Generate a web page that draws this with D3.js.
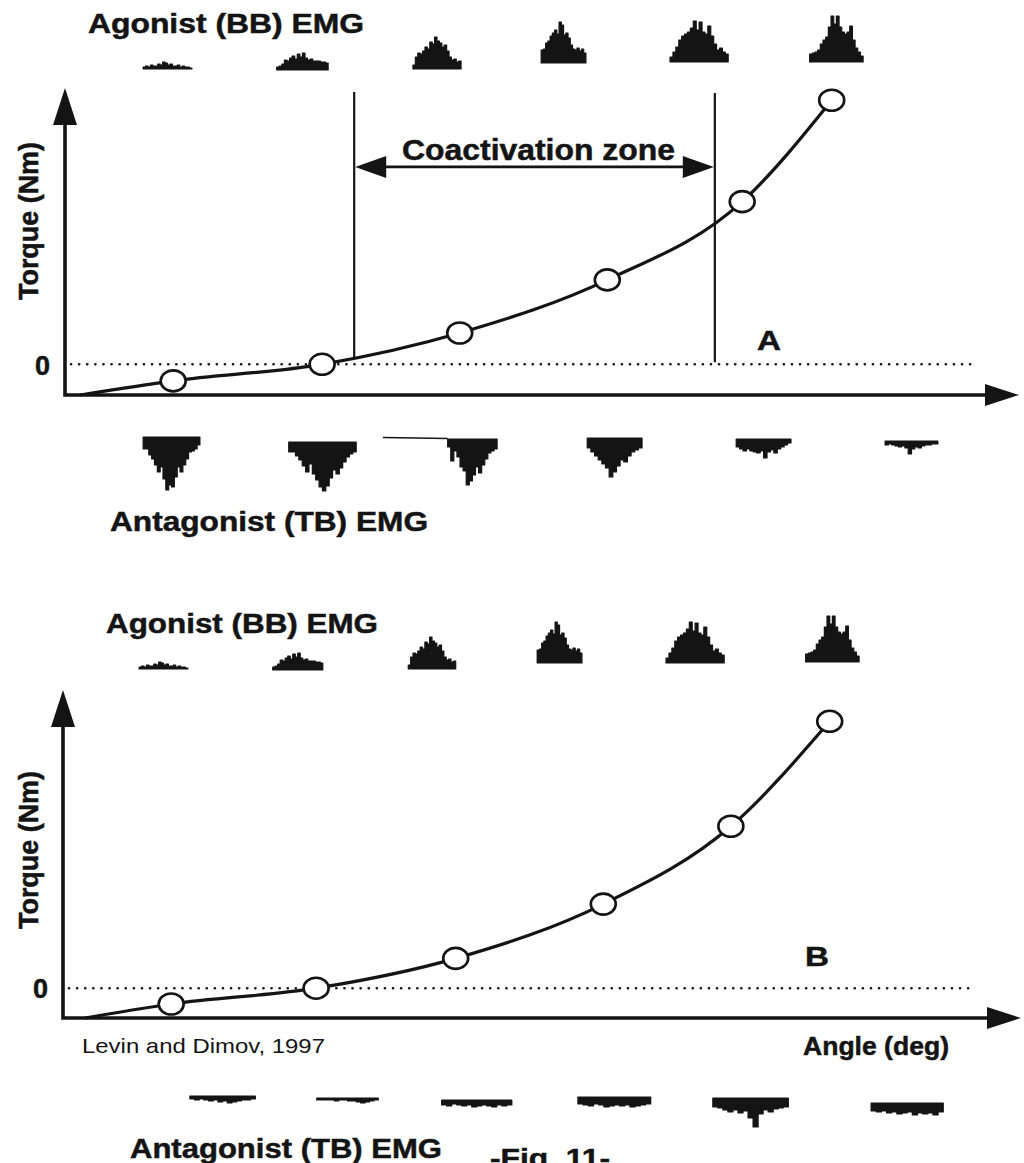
<!DOCTYPE html>
<html><head><meta charset="utf-8">
<script src="https://cdn.jsdelivr.net/npm/d3@7"></script>
<style>
html,body{margin:0;padding:0;background:#fff;}
svg{display:block;}
text{font-family:"Liberation Sans",Arial,Helvetica,sans-serif;fill:#141414;}
text.heavy{stroke:#141414;stroke-width:0.5px;}
</style></head><body>
<svg id="fig" width="1024" height="1163"></svg>
<script>
// ---- Torque-angle data (angle in deg, torque in Nm, schematic units) ----
const angleA  = [16.2, 38.5, 59.1, 81.2, 101.4, 114.8];
const torqueA = [-0.54, 0, 1.02, 2.75, 5.3, 8.6];
const angleB  = [16.2, 37.9, 58.8, 80.9, 100.0, 114.8];
const torqueB = [-0.53, 0, 1.0, 2.82, 5.43, 8.95];
// curve onset at the origin corner
const onsetA = [2.25, -1];
const onsetB = [3.3, -1];
// coactivation zone limits (deg) and marker extent (Nm)
const coactivationZone = [43.3, 97.3];
const coactLineTop = [8.87, 8.84];
const coactLineBottom = [0.2, 0.07];
const coactArrowTorque = 6.43;

// ---- EMG envelopes (µV, evenly sampled across each burst) ----
const agonistProfiles = [
  [20,30,20,40,30,30,50,40,70,60,40,50,30,30,40,20,30,20,20,10],
  [30,40,60,100,90,120,140,110,160,130,170,120,100,110,90,90,90,80,80,70],
  [40,120,160,150,180,220,200,270,250,320,280,260,220,240,180,120,90,100,70,80],
  [130,140,200,220,270,300,330,290,410,380,280,300,250,180,140,130,150,120,140,100],
  [50,100,150,220,260,280,300,340,410,320,400,300,280,360,260,180,120,140,100,80],
  [80,90,100,120,180,220,250,350,460,380,460,350,300,280,300,360,220,140,100,60]
];
const antagonistProfilesA = [
  [120,120,180,220,280,350,300,420,530,480,500,400,300,350,280,220,150,140,120,80],
  [100,100,140,180,240,300,220,320,380,450,490,440,360,280,320,260,200,150,120,100],
  [80,220,120,180,280,320,460,420,360,280,340,260,200,140,120,100],
  [100,140,180,220,260,300,390,340,280,220,240,180,140,120,100],
  [80,100,120,100,120,130,140,120,190,130,110,140,100,80,60,40],
  [40,30,40,50,60,50,70,130,80,60,70,50,40,40,30,30]
];
const antagonistProfilesB = [
  [30,40,30,40,50,40,60,50,70,60,50,40,40,30],
  [20,20,20,20,30,20,20,30,30,40,50,40,30,20],
  [50,60,40,50,60,50,70,60,50,60,70,50,60,50],
  [70,80,90,70,80,100,90,80,90,80,100,90,80,70],
  [90,100,120,140,120,150,130,200,290,160,120,140,110,100,90],
  [80,90,80,100,90,110,100,90,120,100,110,100,120,90]
];
// angle span (deg) covered by each recorded burst
const agonistSpanA    = [[11.7,19.0],[31.7,39.4],[52.1,59.3],[71.3,78.0],[90.6,99.3],[111.5,119.5]];
const antagonistSpanA = [[11.7,20.2],[33.5,43.6],[57.3,64.7],[78.2,86.4],[100.5,108.7],[122.8,130.7]];
const agonistSpanB    = [[11.4,18.7],[31.4,38.9],[51.7,58.8],[71.0,77.7],[90.3,99.0],[111.2,119.2]];
const antagonistSpanB = [[19.0,28.8],[38.0,47.2],[56.7,67.2],[77.1,88.0],[97.3,108.6],[121.0,131.8]];
const tbTraceLeadA = 47.6; // start of the TB baseline trace before burst 3

const svg = d3.select("#fig");
const ink = "#141414";

// EMG amplitude -> pixel height
const emgScale = d3.scaleLinear().domain([0, 500]).range([0, 50]);

function label(g, txt, x, y, size, len, weight) {
  const t = g.append("text").attr("x", x).attr("y", y)
    .attr("font-size", size).attr("font-weight", weight || "bold")
    .attr("textLength", len).attr("lengthAdjust", "spacingAndGlyphs").text(txt);
  if (!weight) t.attr("class", "heavy");
  return t;
}

function drawBursts(g, x, spans, profiles, baselines, dir) {
  spans.forEach((sp, i) => {
    const vals = profiles[i].concat([profiles[i][profiles[i].length - 1]]);
    const sx = d3.scaleLinear().domain([0, vals.length - 1]).range([x(sp[0]), x(sp[1])]);
    const b = baselines[i];
    const area = d3.area()
      .x((d, j) => sx(j))
      .y0(b)
      .y1(d => b - dir * emgScale(d))
      .curve(d3.curveStepAfter);
    g.append("path").attr("d", area(vals)).attr("fill", ink)
      .attr("stroke", ink).attr("stroke-width", 1.2).attr("stroke-linejoin", "round");
  });
}

function drawPanel(cfg) {
  const g = svg.append("g");
  const x = d3.scaleLinear().domain([0, 140]).range(cfg.xRange);
  const y = d3.scaleLinear().domain(cfg.yDomain).range(cfg.yRange);
  const x0 = cfg.xRange[0], yb = cfg.yRange[0], yt = cfg.yRange[1];

  // zero reference (dotted)
  g.append("line").attr("x1", x0 + 6).attr("x2", cfg.dotEnd)
    .attr("y1", y(0)).attr("y2", y(0))
    .attr("stroke", ink).attr("stroke-width", 2.6)
    .attr("stroke-dasharray", "0.1 8").attr("stroke-linecap", "round");

  // zero tick label via axis
  const ax = d3.axisLeft(y).tickValues([0]).tickSize(0).tickPadding(15).tickFormat(d3.format("d"));
  const axg = g.append("g").attr("transform", `translate(${x0},0)`).call(ax);
  axg.select(".domain").remove();
  axg.selectAll("text").attr("font-size", 27).attr("font-weight", "bold")
    .attr("font-family", "Liberation Sans, Arial, sans-serif").attr("fill", ink)
    .attr("class", "heavy").attr("dy", "0.36em");

  // axes with arrowheads
  g.append("path").attr("d", `M${x0},${yt + 30}L${x0},${yb}L${cfg.xTip - 28},${yb}`)
    .attr("fill", "none").attr("stroke", ink).attr("stroke-width", 3.6);
  g.append("path").attr("d", `M${x0},${yt}L${x0 - 12},${yt + 37}L${x0 + 12},${yt + 37}Z`).attr("fill", ink);
  g.append("path").attr("d", `M${cfg.xTip},${yb}L${cfg.xTip - 34},${yb - 11}L${cfg.xTip - 34},${yb + 11}Z`).attr("fill", ink);

  // torque-angle curve
  const pts = [cfg.onset].concat(cfg.angle.map((a, i) => [a, cfg.torque[i]]));
  const line = d3.line().x(d => x(d[0])).y(d => y(d[1])).curve(d3.curveMonotoneX);
  g.append("path").attr("d", line(pts)).attr("fill", "none")
    .attr("stroke", ink).attr("stroke-width", 3.2);

  g.selectAll("ellipse.pt").data(cfg.angle).enter().append("ellipse")
    .attr("class", "pt")
    .attr("cx", d => x(d)).attr("cy", (d, i) => y(cfg.torque[i]))
    .attr("rx", 12.5).attr("ry", 10.5)
    .attr("fill", "#fff").attr("stroke", ink).attr("stroke-width", 2.6);

  // EMG rows
  drawBursts(g, x, cfg.agSpan, agonistProfiles, cfg.agBase, 1);
  drawBursts(g, x, cfg.antSpan, cfg.antProfiles, cfg.antTop, -1);

  // y-axis title
  g.append("text").attr("transform", `translate(${cfg.yTitle[0]},${cfg.yTitle[1]}) rotate(-90)`)
    .attr("text-anchor", "middle").attr("font-size", 27).attr("font-weight", "bold")
    .attr("class", "heavy")
    .attr("textLength", 158).attr("lengthAdjust", "spacingAndGlyphs").text("Torque (Nm)");

  return { g, x, y };
}

// ---- Panel A ----
const A = drawPanel({
  xRange: [65, 1000], xTip: 1019, dotEnd: 975,
  yDomain: [-1, 9], yRange: [395, 88],
  angle: angleA, torque: torqueA, onset: onsetA,
  agSpan: agonistSpanA, agBase: [69, 70, 69, 63, 62, 62],
  antSpan: antagonistSpanA, antProfiles: antagonistProfilesA, antTop: [437, 442, 439, 438, 439, 441],
  yTitle: [38, 221]
});
// coactivation zone markers
coactivationZone.forEach((a, i) => {
  A.g.append("line").attr("x1", A.x(a)).attr("x2", A.x(a))
    .attr("y1", A.y(coactLineTop[i])).attr("y2", A.y(coactLineBottom[i]))
    .attr("stroke", ink).attr("stroke-width", 2.2);
});
{
  const xa = A.x(coactivationZone[0]), xb = A.x(coactivationZone[1]), ya = A.y(coactArrowTorque);
  A.g.append("line").attr("x1", xa + 20).attr("x2", xb - 20).attr("y1", ya).attr("y2", ya)
    .attr("stroke", ink).attr("stroke-width", 2.6);
  A.g.append("path").attr("d", `M${xa + 1},${ya}L${xa + 32},${ya - 11}L${xa + 32},${ya + 11}Z`).attr("fill", ink);
  A.g.append("path").attr("d", `M${xb - 1},${ya}L${xb - 32},${ya - 11}L${xb - 32},${ya + 11}Z`).attr("fill", ink);
}
// TB baseline trace leading into burst 3
A.g.append("line").attr("x1", A.x(tbTraceLeadA)).attr("x2", A.x(antagonistSpanA[2][0]))
  .attr("y1", 437.5).attr("y2", 438.5).attr("stroke", ink).attr("stroke-width", 1.6);

label(svg, "Agonist (BB) EMG", 88, 33, 28, 276);
label(svg, "Coactivation zone", 402, 160, 29, 273);
label(svg, "A", 757, 350, 27, 24);
label(svg, "Antagonist (TB) EMG", 110, 531, 28, 318);

// ---- Panel B ----
const B = drawPanel({
  xRange: [63, 998], xTip: 1021, dotEnd: 972,
  yDomain: [-1, 10], yRange: [1018, 690],
  angle: angleB, torque: torqueB, onset: onsetB,
  agSpan: agonistSpanB, agBase: [669, 670, 669, 663, 663, 662],
  antSpan: antagonistSpanB, antProfiles: antagonistProfilesB, antTop: [1096, 1098, 1100, 1097, 1098, 1103],
  yTitle: [38, 850]
});

label(svg, "Agonist (BB) EMG", 106, 633, 28, 272);
label(svg, "B", 805, 966, 27, 24);
label(svg, "Levin and Dimov, 1997", 82, 1053, 21, 243, "normal");
label(svg, "Angle (deg)", 803, 1055, 26, 146);
label(svg, "Antagonist (TB) EMG", 130, 1158, 28, 312);
label(svg, "-Fig. 11-", 490, 1167, 26, 120);
</script>
</body></html>
